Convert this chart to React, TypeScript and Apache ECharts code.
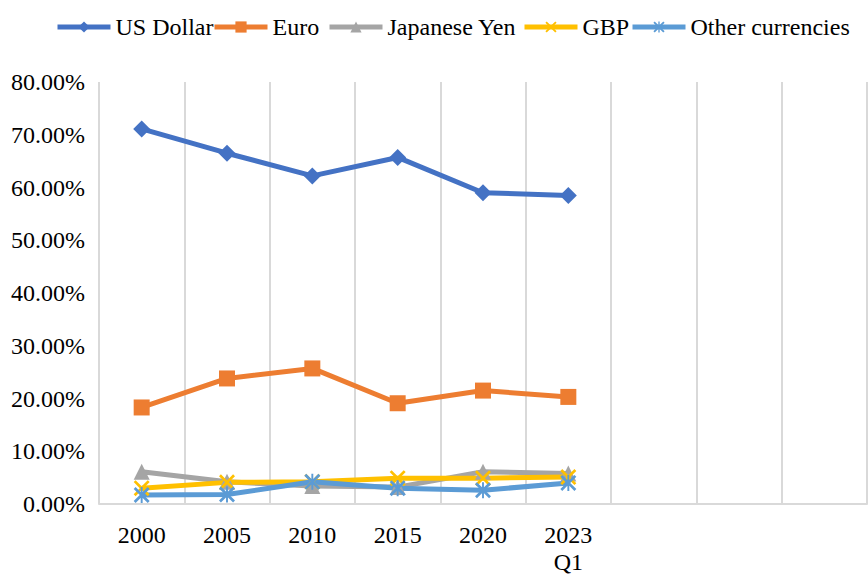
import React, { useEffect, useRef } from "react";
import * as echarts from "echarts";

const categories = ["2000", "2005", "2010", "2015", "2020", "2023\nQ1", "", "", ""];
const seriesNames = ["US Dollar", "Euro", "Japanese Yen", "GBP", "Other currencies"];
const usDollar = [71.1, 66.5, 62.2, 65.7, 59.0, 58.5];
const euro = [18.3, 23.8, 25.7, 19.1, 21.5, 20.3];
const yen = [6.1, 4.2, 3.4, 3.2, 6.1, 5.8];
const gbp = [3.0, 4.1, 4.2, 4.9, 4.9, 5.1];
const other = [1.7, 1.8, 4.2, 3.0, 2.6, 4.0];
const yTicks = { min: 0, max: 80, interval: 10 };

const FONT = "Liberation Serif";
const X_PATH =
  "path://M0,1.2L1.2,0L5,3.8L8.8,0L10,1.2L6.2,5L10,8.8L8.8,10L5,6.2L1.2,10L0,8.8L3.8,5Z";
const STAR_PATH =
  "path://M0,1.2L1.2,0L5,3.8L8.8,0L10,1.2L6.2,5L10,8.8L8.8,10L5,6.2L1.2,10L0,8.8L3.8,5Z M4.4,0L5.6,0L5.6,10L4.4,10Z";

const legendLefts = [55, 212, 327, 522, 630];

export default function App() {
  const ref = useRef<HTMLDivElement>(null);
  useEffect(() => {
    if (!ref.current) return;
    const chart = echarts.init(ref.current, undefined, { renderer: "svg" });
    const mk = (name: string, data: number[], color: string, symbol: string, size: number) => ({
      name,
      type: "line",
      data,
      symbol,
      symbolSize: size,
      showAllSymbol: true,
      lineStyle: { color, width: 5 },
      itemStyle: { color, borderColor: color, borderWidth: 0 },
      emphasis: { disabled: true },
    });
    chart.setOption({
      animation: false,
      textStyle: { fontFamily: FONT },
      legend: seriesNames.map((n, i) => ({
        top: 15,
        left: legendLefts[i],
        padding: 0,
        itemWidth: 53,
        itemHeight: 14,
        itemGap: 0,
        lineStyle: { width: 5 },
        textStyle: { fontFamily: FONT, fontSize: 24, color: "#000" },
        data: [n],
      })),
      grid: {
        left: 99,
        right: 1,
        top: 82,
        bottom: 70,
        containLabel: false,
        outerBoundsMode: "none",
      },
      xAxis: {
        type: "category",
        data: categories,
        boundaryGap: true,
        axisLine: { show: true, lineStyle: { color: "#d9d9d9", width: 2 } },
        axisTick: { show: false },
        splitLine: { show: true, interval: 0, lineStyle: { color: "#d9d9d9", width: 2 } },
        axisLabel: {
          interval: 0,
          fontFamily: FONT,
          fontSize: 24,
          color: "#000",
          margin: 17,
          lineHeight: 27,
        },
      },
      yAxis: {
        type: "value",
        min: yTicks.min,
        max: yTicks.max,
        interval: yTicks.interval,
        axisLine: { show: false },
        axisTick: { show: false },
        splitLine: { show: false },
        axisLabel: {
          fontFamily: FONT,
          fontSize: 24,
          color: "#000",
          margin: 14,
          formatter: (v: number) => `${v.toFixed(2)}%`,
        },
      },
      series: [
        mk(seriesNames[0], usDollar, "#4472C4", "diamond", 17),
        mk(seriesNames[1], euro, "#ED7D31", "rect", 16),
        mk(seriesNames[2], yen, "#A5A5A5", "triangle", 16),
        mk(seriesNames[3], gbp, "#FFC000", X_PATH, 16),
        mk(seriesNames[4], other, "#5B9BD5", STAR_PATH, 16),
      ],
    });
    return () => chart.dispose();
  }, []);
  return (
    <div
      ref={ref}
      style={{ position: "fixed", left: 0, top: 0, width: 868, height: 574, background: "#fff" }}
    />
  );
}
